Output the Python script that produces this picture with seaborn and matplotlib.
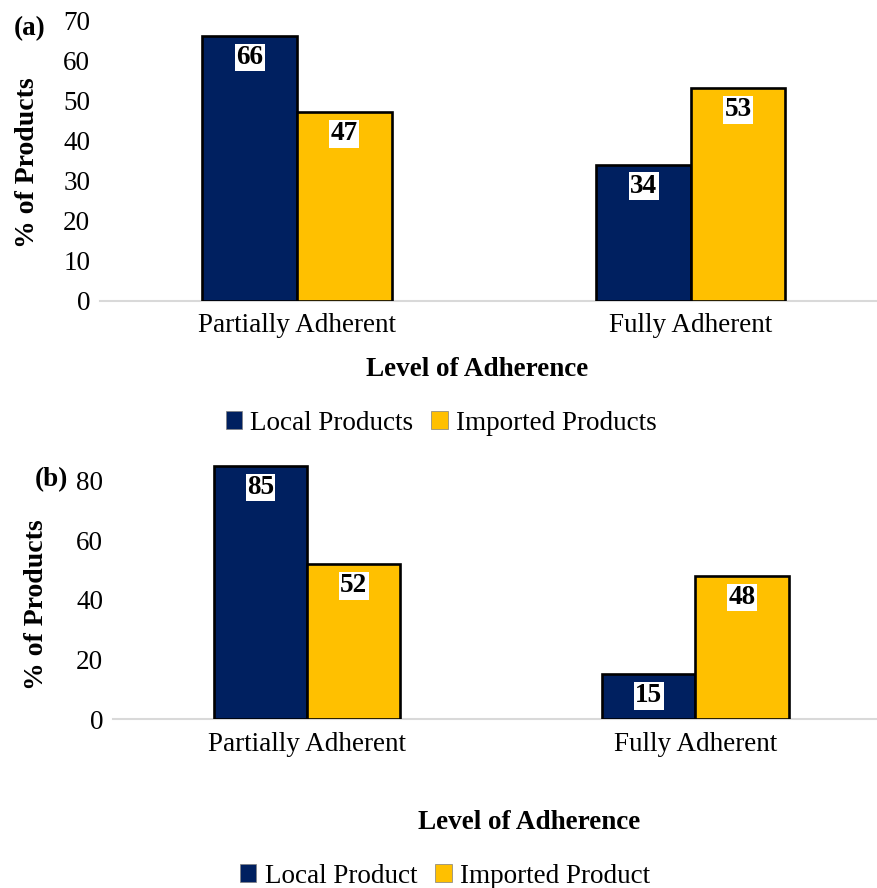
import matplotlib
matplotlib.use("Agg")
import matplotlib.pyplot as plt
import seaborn as sns
import pandas as pd
from matplotlib.patches import Patch

# Data
levels = ["Partially Adherent", "Fully Adherent"]
local_a = [66, 34]
imported_a = [47, 53]
local_b = [85, 15]
imported_b = [52, 48]
yticks_a = [0, 10, 20, 30, 40, 50, 60, 70]
yticks_b = [0, 20, 40, 60, 80]

NAVY = "#002060"
GOLD = "#FFC000"

sns.set_theme(style="white")
plt.rcParams["font.family"] = ["Liberation Serif", "DejaVu Serif"]
plt.rcParams["text.color"] = "black"
plt.rcParams["axes.labelcolor"] = "black"

W, H = 878, 888
fig = plt.figure(figsize=(W / 100, H / 100), dpi=100)


def px_box(left, right, top, bottom):
    return [left / W, 1 - bottom / H, (right - left) / W, (bottom - top) / H]


def panel(ax, local, imported, yticks, ymax, xright):
    df = pd.DataFrame({
        "level": levels * 2,
        "pct": local + imported,
        "origin": ["Local"] * len(levels) + ["Imported"] * len(levels),
    })
    sns.barplot(data=df, x="level", y="pct", hue="origin",
                palette=[NAVY, GOLD], saturation=1, width=0.48, gap=0,
                edgecolor="black", linewidth=1.9, legend=False, ax=ax)
    for cont, vals in zip(ax.containers, [local, imported]):
        for bar, v in zip(cont, vals):
            ax.annotate(f"{v}", (bar.get_x() + bar.get_width() / 2, v),
                        xytext=(0, -15.5), textcoords="offset points",
                        ha="center", va="center", fontsize=19.5,
                        fontweight="bold", color="black",
                        bbox=dict(boxstyle="square,pad=0.05", fc="white", ec="none"))
    ax.set_ylim(0, ymax)
    ax.set_xlim(-0.5, xright)
    ax.set_yticks(yticks)
    ax.set_yticklabels([str(t) for t in yticks])
    ax.set_xlabel("")
    ax.set_ylabel("")
    for s in ["top", "right", "left"]:
        ax.spines[s].set_visible(False)
    ax.spines["bottom"].set_color("#d9d9d9")
    ax.spines["bottom"].set_linewidth(1.5)
    ax.spines["bottom"].set_zorder(0)
    ax.tick_params(axis="both", length=0, labelsize=19.5, colors="black")
    ax.tick_params(axis="y", pad=7)
    ax.tick_params(axis="x", pad=9)
    ax.grid(False)


ax1 = fig.add_axes(px_box(100, 878, 20, 301))
panel(ax1, local_a, imported_a, yticks_a, 70, 1.475)
ax2 = fig.add_axes(px_box(113, 878, 457, 719))
panel(ax2, local_b, imported_b, yticks_b, 88, 1.47)


def ftext(x, y, s, **kw):
    fig.text(x / W, 1 - y / H, s, **kw)


ftext(28, 163, "% of Products", rotation=90, ha="center", va="center",
      fontsize=20, fontweight="bold")
ftext(37, 605, "% of Products", rotation=90, ha="center", va="center",
      fontsize=20, fontweight="bold")
ftext(477, 369, "Level of Adherence", ha="center", va="center",
      fontsize=19.5, fontweight="bold")
ftext(529, 822, "Level of Adherence", ha="center", va="center",
      fontsize=19.5, fontweight="bold")
ftext(30, 29, "(a)", ha="center", va="center", fontsize=19.5, fontweight="bold")
ftext(51, 480, "(b)", ha="center", va="center", fontsize=19.5, fontweight="bold")

handles = [Patch(facecolor=NAVY, edgecolor="#7f7f7f", linewidth=0.5),
           Patch(facecolor=GOLD, edgecolor="#7f7f7f", linewidth=0.5)]
leg_kw = dict(loc="center", frameon=False, fontsize=19.5, ncol=2,
              handlelength=0.6, handleheight=0.6, handletextpad=0.3,
              columnspacing=0.67, borderpad=0, labelcolor="black")
fig.legend(handles, ["Local Products", "Imported Products"],
           bbox_to_anchor=(441 / W, 1 - 423 / H), **leg_kw)
fig.legend(handles, ["Local Product", "Imported Product"],
           bbox_to_anchor=(445 / W, 1 - 876 / H), **leg_kw)

fig.savefig("out.png", dpi=100)
